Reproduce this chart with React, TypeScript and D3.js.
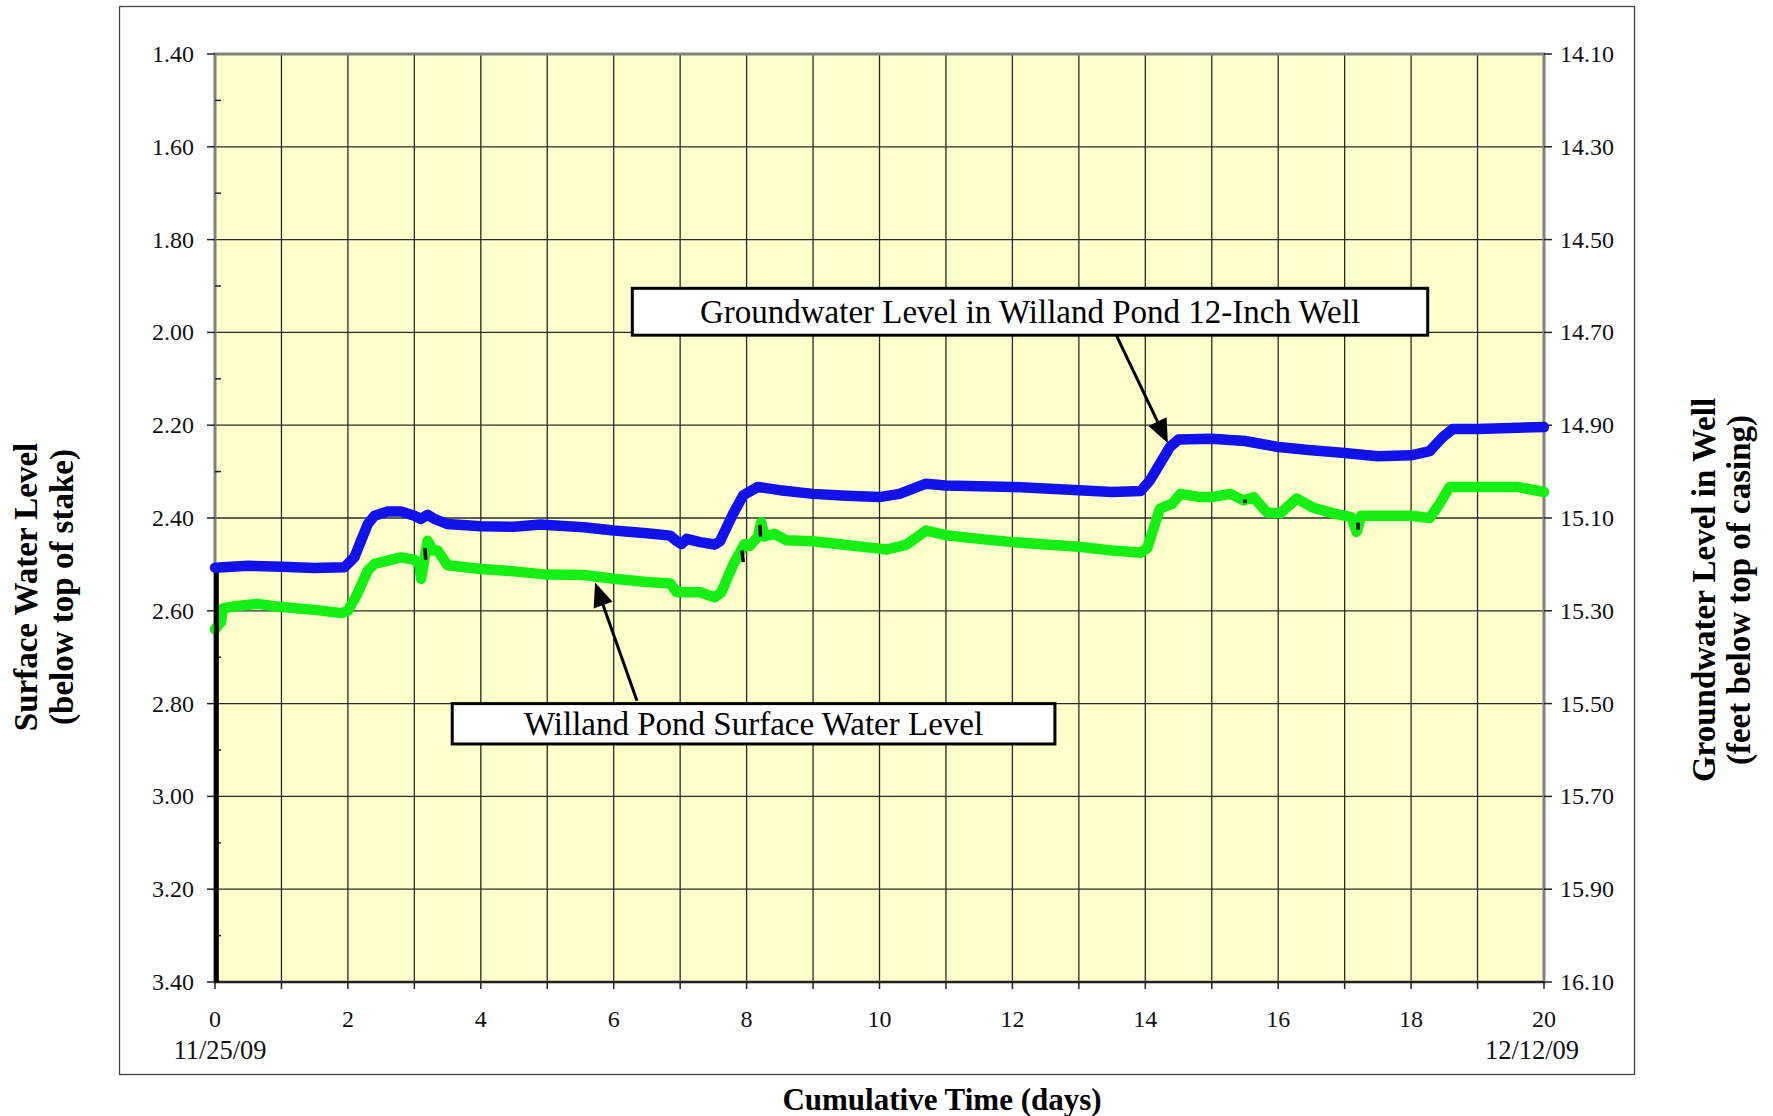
import React from "react";
import * as d3 from "d3";

// ---------- data ----------
const surfaceDays = [0, 0.05, 0.09, 0.12, 0.3, 0.64, 1.0, 1.5, 1.9, 2.0, 2.14, 2.3, 2.4, 2.6, 2.8, 3.0, 3.08, 3.1, 3.15, 3.2, 3.28, 3.35, 3.5, 4.0, 4.5, 5.0, 5.55, 6.0, 6.5, 6.85, 6.95, 7.3, 7.52, 7.62, 7.8, 7.97, 8.05, 8.17, 8.22, 8.27, 8.42, 8.6, 9.0, 9.5, 10.0, 10.1, 10.4, 10.7, 11.0, 11.5, 12.0, 12.5, 13.0, 13.5, 13.85, 13.93, 14.03, 14.13, 14.22, 14.3, 14.4, 14.53, 14.83, 15.0, 15.28, 15.48, 15.63, 15.83, 16.03, 16.28, 16.53, 16.83, 17.1, 17.18, 17.25, 17.33, 18.0, 18.28, 18.43, 18.58, 19.0, 19.6, 20.0];
const surfaceLevel = [2.64, 2.63, 2.625, 2.595, 2.59, 2.585, 2.592, 2.598, 2.605, 2.6, 2.564, 2.513, 2.499, 2.492, 2.485, 2.49, 2.5, 2.531, 2.49, 2.449, 2.47, 2.47, 2.502, 2.51, 2.515, 2.522, 2.523, 2.531, 2.538, 2.541, 2.56, 2.56, 2.571, 2.56, 2.5, 2.456, 2.46, 2.44, 2.409, 2.44, 2.434, 2.448, 2.45, 2.458, 2.466, 2.468, 2.458, 2.427, 2.437, 2.445, 2.452, 2.457, 2.462, 2.47, 2.474, 2.475, 2.465, 2.42, 2.38, 2.375, 2.37, 2.348, 2.355, 2.355, 2.348, 2.362, 2.355, 2.388, 2.39, 2.358, 2.378, 2.39, 2.398, 2.43, 2.395, 2.395, 2.395, 2.4, 2.369, 2.333, 2.333, 2.333, 2.344];

const groundDays = [0, 0.5, 1.0, 1.5, 1.95, 2.1, 2.2, 2.3, 2.4, 2.6, 2.8, 3.0, 3.1, 3.2, 3.3, 3.5, 4.0, 4.5, 4.9, 5.0, 5.55, 6.0, 6.5, 6.85, 6.95, 7.02, 7.1, 7.3, 7.52, 7.6, 7.7, 7.8, 7.95, 8.17, 8.5, 9.0, 9.5, 10.0, 10.3, 10.7, 11.0, 12.0, 13.0, 13.5, 13.93, 14.07, 14.22, 14.37, 14.5, 15.0, 15.5, 16.0, 16.5, 17.0, 17.5, 18.0, 18.28, 18.48, 18.63, 19.0, 20.0];
const groundLevel = [15.207, 15.203, 15.205, 15.208, 15.206, 15.184, 15.148, 15.113, 15.095, 15.086, 15.086, 15.095, 15.102, 15.093, 15.102, 15.113, 15.118, 15.119, 15.114, 15.115, 15.12, 15.127, 15.133, 15.138, 15.15, 15.156, 15.145, 15.152, 15.157, 15.15, 15.12, 15.09, 15.051, 15.033, 15.04, 15.048, 15.052, 15.055, 15.048, 15.026, 15.03, 15.033, 15.04, 15.044, 15.042, 15.019, 14.983, 14.947, 14.931, 14.929, 14.934, 14.947, 14.954, 14.96, 14.967, 14.965, 14.956, 14.925, 14.908, 14.908, 14.904];

// short black segments (raw transducer trace showing behind the green)
const blackSegDays = [[0.02, 0.02], [3.16, 3.17], [7.93, 7.95], [8.2, 8.21], [15.5, 15.5], [17.2, 17.2]];
const blackSegLevels = [[2.51, 3.4], [2.465, 2.49], [2.47, 2.495], [2.415, 2.44], [2.36, 2.368], [2.41, 2.425]];

const leftTicks = [1.4, 1.6, 1.8, 2.0, 2.2, 2.4, 2.6, 2.8, 3.0, 3.2, 3.4];
const leftMinor = [1.5, 1.7, 1.9, 2.1, 2.3, 2.5, 2.7, 2.9, 3.1, 3.3];
const rightTicks = [14.1, 14.3, 14.5, 14.7, 14.9, 15.1, 15.3, 15.5, 15.7, 15.9, 16.1];
const dayGrid = d3.range(0, 21, 1);
const dayLabels = [0, 2, 4, 6, 8, 10, 12, 14, 16, 18, 20];
const dateLabels = [
  { day: 0, text: "11/25/09" },
  { day: 20, text: "12/12/09" },
];

const callouts = [
  { text: "Groundwater Level in Willand Pond 12-Inch Well", d0: 6.28, d1: 18.25, v0: 1.905, v1: 2.006, fromDay: 13.57, fromVal: 2.008, toDay: 14.34, toVal: 2.239 },
  { text: "Willand Pond Surface Water Level", d0: 3.57, d1: 12.64, v0: 2.80, v1: 2.887, fromDay: 6.35, fromVal: 2.794, toDay: 5.72, toVal: 2.539 },
];

// ---------- layout ----------
const W = 1773;
const H = 1116;
const PL = 215, PR = 1544, PT = 54, PB = 982;
const FONT = "'Liberation Serif', 'Times New Roman', serif";

export default function App() {
  const x = d3.scaleLinear().domain([0, 20]).range([PL, PR]);
  const yL = d3.scaleLinear().domain([1.4, 3.4]).range([PT, PB]);
  const yR = d3.scaleLinear().domain([14.1, 16.1]).range([PT, PB]);

  const surfacePts = surfaceDays.map((d, i) => [d, surfaceLevel[i]] as [number, number]);
  const groundPts = groundDays.map((d, i) => [d, groundLevel[i]] as [number, number]);

  const lineL = d3.line<[number, number]>().x((p) => x(p[0])).y((p) => yL(p[1]));
  const lineR = d3.line<[number, number]>().x((p) => x(p[0])).y((p) => yR(p[1]));

  const arrowHead = (x1: number, y1: number, x2: number, y2: number) => {
    const ang = Math.atan2(y2 - y1, x2 - x1);
    const len = 24, half = 10;
    const bx = x2 - len * Math.cos(ang), by = y2 - len * Math.sin(ang);
    const px = -Math.sin(ang) * half, py = Math.cos(ang) * half;
    return { pts: `${x2},${y2} ${bx + px},${by + py} ${bx - px},${by - py}`, bx, by };
  };

  return (
    <svg width={W} height={H} style={{ position: "absolute", left: 0, top: 0, background: "#fff" }} fontFamily={FONT}>
      <rect x={0} y={0} width={W} height={H} fill="#fff" />
      {/* outer chart frame */}
      <rect x={119.5} y={6.5} width={1515} height={1068} fill="#fff" stroke="#444" strokeWidth={1.3} />

      {/* plot area */}
      <rect x={PL} y={PT} width={PR - PL} height={PB - PT} fill="#FFFFCC" />

      {/* grid */}
      {dayGrid.slice(1, -1).map((d) => (
        <line key={"vg" + d} x1={x(d)} x2={x(d)} y1={PT} y2={PB} stroke="#2a2a2a" strokeWidth={1.3} />
      ))}
      {leftTicks.slice(1, -1).map((v) => (
        <line key={"hg" + v} x1={PL} x2={PR} y1={yL(v)} y2={yL(v)} stroke="#2a2a2a" strokeWidth={1.3} />
      ))}

      {/* plot border */}
      <rect x={PL} y={PT} width={PR - PL} height={PB - PT} fill="none" stroke="#808080" strokeWidth={3} />
      <line x1={PL} x2={PR} y1={PB} y2={PB} stroke="#222" strokeWidth={2} />

      {/* left axis ticks */}
      {leftTicks.map((v) => (
        <g key={"lt" + v}>
          <line x1={PL - 8} x2={PL} y1={yL(v)} y2={yL(v)} stroke="#222" strokeWidth={1.5} />
          <text x={194} y={yL(v) + 8} fontSize={24} textAnchor="end" fill="#111">{v.toFixed(2)}</text>
        </g>
      ))}
      {leftMinor.map((v) => (
        <line key={"lm" + v} x1={PL} x2={PL + 6} y1={yL(v)} y2={yL(v)} stroke="#222" strokeWidth={1.5} />
      ))}

      {/* right axis ticks */}
      {rightTicks.map((v) => (
        <g key={"rt" + v}>
          <line x1={PR} x2={PR + 8} y1={yR(v)} y2={yR(v)} stroke="#222" strokeWidth={1.5} />
          <text x={1560} y={yR(v) + 8} fontSize={24} textAnchor="start" fill="#111">{v.toFixed(2)}</text>
        </g>
      ))}

      {/* x axis ticks */}
      {dayGrid.map((d) => (
        <line key={"xt" + d} x1={x(d)} x2={x(d)} y1={PB} y2={PB + 7} stroke="#222" strokeWidth={1.5} />
      ))}
      {dayLabels.map((d) => (
        <text key={"xl" + d} x={x(d)} y={1027} fontSize={24} textAnchor="middle" fill="#111">{d}</text>
      ))}
      {dateLabels.map((l) => (
        <text key={l.text} x={x(l.day) + (l.day === 0 ? 5 : -12)} y={1059} fontSize={26.5} textAnchor="middle" fill="#111">{l.text}</text>
      ))}

      {/* data */}
      <path d={lineL(surfacePts) || ""} fill="none" stroke="#14F014" strokeWidth={10.5} strokeLinejoin="round" strokeLinecap="round" />
      {blackSegDays.map((seg, i) => (
        <path key={"bs" + i} d={lineL([[seg[0], blackSegLevels[i][0]], [seg[1], blackSegLevels[i][1]]]) || ""} fill="none" stroke="#000" strokeWidth={i === 0 ? 5 : 3.5} />
      ))}
      <path d={lineR(groundPts) || ""} fill="none" stroke="#1212EE" strokeWidth={10.5} strokeLinejoin="round" strokeLinecap="round" />

      {/* callouts */}
      {callouts.map((c, i) => {
        const x1 = x(c.fromDay), y1 = yL(c.fromVal), x2 = x(c.toDay), y2 = yL(c.toVal);
        const ah = arrowHead(x1, y1, x2, y2);
        const bx0 = x(c.d0), bx1 = x(c.d1), by0 = yL(c.v0), by1 = yL(c.v1);
        return (
          <g key={"co" + i}>
            <line x1={x1} y1={y1} x2={ah.bx} y2={ah.by} stroke="#000" strokeWidth={3} />
            <polygon points={ah.pts} fill="#000" />
            <rect x={bx0} y={by0} width={bx1 - bx0} height={by1 - by0} fill="#fff" stroke="#000" strokeWidth={3} />
            <text x={(bx0 + bx1) / 2} y={(by0 + by1) / 2 + 11} fontSize={33} textAnchor="middle" fill="#000">{c.text}</text>
          </g>
        );
      })}

      {/* axis titles */}
      <text x={942} y={1110} fontSize={31} fontWeight="bold" textAnchor="middle" fill="#000">Cumulative Time (days)</text>
      <g transform="translate(37,587) rotate(-90)">
        <text x={0} y={0} fontSize={33} fontWeight="bold" textAnchor="middle" fill="#000">Surface Water Level</text>
      </g>
      <g transform="translate(73,587) rotate(-90)">
        <text x={0} y={0} fontSize={33} fontWeight="bold" textAnchor="middle" fill="#000">(below top of stake)</text>
      </g>
      <g transform="translate(1715,590) rotate(-90)">
        <text x={0} y={0} fontSize={33} fontWeight="bold" textAnchor="middle" fill="#000">Groundwater Level in Well</text>
      </g>
      <g transform="translate(1750,590) rotate(-90)">
        <text x={0} y={0} fontSize={33} fontWeight="bold" textAnchor="middle" fill="#000">(feet below top of casing)</text>
      </g>
    </svg>
  );
}
